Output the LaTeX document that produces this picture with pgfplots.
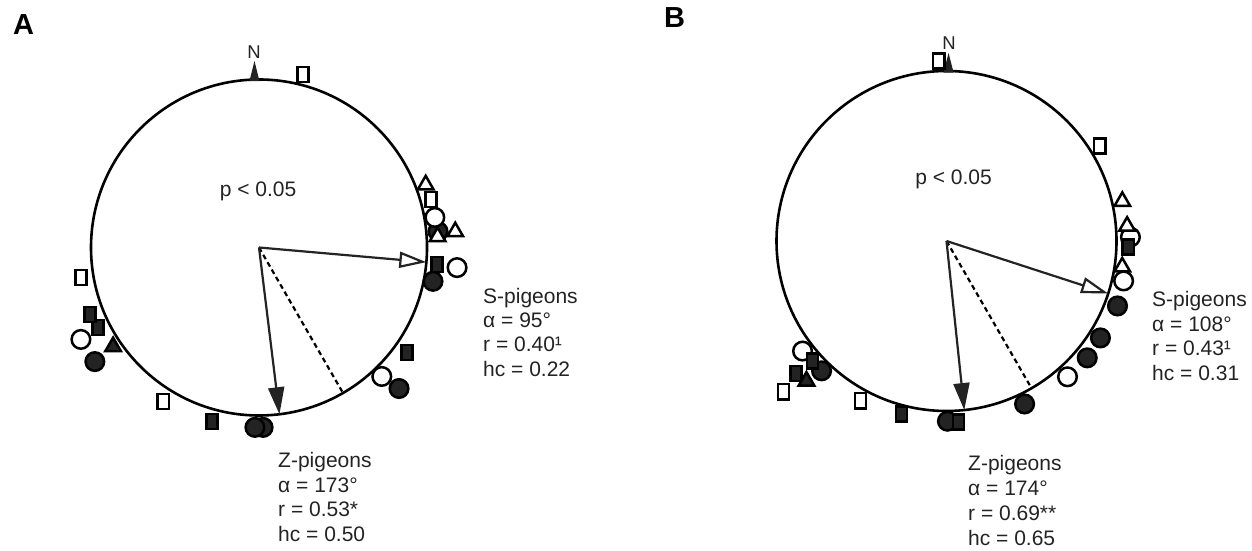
\documentclass[border=0pt]{standalone}
\usepackage{fontspec}
\setmainfont{Liberation Sans}
\usepackage{pgfplots}
\pgfplotsset{compat=1.18}
\usetikzlibrary{arrows.meta}

\definecolor{ink}{HTML}{232323}

\pgfplotsset{
  compass/.style={scale only axis, hide axis, clip=false, anchor=south west,
    xmin=-1, xmax=1, ymin=-1, ymax=1},
  bird/.style={only marks, data cs=polar, line width=2.5pt, draw=black},
  fcirc/.style={bird, mark=*, mark size=9.3pt,
    mark options={line width=2.5pt, draw=black, fill=ink}},
  ocirc/.style={bird, mark=*, mark size=9.3pt,
    mark options={line width=2.5pt, draw=black, fill=white}},
  fsq/.style={bird, mark=square*, mark size=7.6pt,
    mark options={line width=2.5pt, draw=black, fill=ink, xscale=0.74}},
  osq/.style={bird, mark=square*, mark size=7.6pt,
    mark options={line width=2.5pt, draw=black, fill=white, xscale=0.74}},
  ftri/.style={bird, mark=triangle*, mark size=9pt,
    mark options={line width=2.5pt, draw=black, fill=ink}},
  otri/.style={bird, mark=triangle*, mark size=9pt,
    mark options={line width=2.5pt, draw=black, fill=white}},
  sarrow/.style={mark=none, data cs=polar, line width=2.2pt, draw=ink,
    -{Triangle[length=27pt,width=16pt,fill=white]}},
  zarrow/.style={mark=none, data cs=polar, line width=2.2pt, draw=ink,
    -{Triangle[length=27pt,width=16pt,fill=ink]}},
  home/.style={mark=none, data cs=polar, line width=2.2pt, draw=black,
    dash pattern=on 5pt off 3.5pt},
  % bearings (deg, clockwise from N) -> math angle
  table/brg/.style={x expr=90-\thisrow{az}, y=r},
}

\newcommand{\txtblock}[7]{%
  \node[lbl] at (#1,551-#2) {#4};
  \node[lbl] at (#1,551-#2-#3) {#5};
  \node[lbl] at (#1,551-#2-2*#3) {#6};
  \node[lbl] at (#1,551-#2-3*#3) {#7};
}

\begin{document}
\begin{tikzpicture}[x=1pt, y=1pt,
  lbl/.style={anchor=base west, inner sep=0pt, text=ink,
    font=\fontsize{21}{25}\selectfont}]

% ---------------- panel A ----------------
\begin{axis}[compass, at={(91pt,135.5pt)}, width=336pt, height=336pt]
\draw[line width=2.6pt] (axis cs:0,0) circle[radius=1];
\fill[ink] (axis cs:-0.057,0.99) -- (axis cs:-0.027,1.11) -- (axis cs:0.003,0.99) -- cycle;
\addplot[home] table[brg] {
az r
150 0
150 0.99
};
\addplot[zarrow] table[brg] {
az r
173 0
173 1
};
\addplot[sarrow] table[brg] {
az r
95 0
95 1
};
\addplot[fcirc] table[brg] {
az r
84.9 1.070
101.0 1.055
135.2 1.183
178.7 1.071
181.3 1.071
235.2 1.190
};
\addplot[ocirc] table[brg] {
az r
80.3 1.062
95.8 1.185
136.4 1.060
242.7 1.193
};
\addplot[fsq] table[brg] {
az r
95.5 1.064
125.4 1.080
195.1 1.073
243.6 1.070
248.4 1.082
};
\addplot[osq] table[brg] {
az r
14.3 1.063
74.4 1.063
211.9 1.080
260.4 1.074
};
\addplot[otri] table[brg] {
az r
69.4 1.060
86.5 1.065
85.4 1.172
};
\addplot[ftri] table[brg] {
az r
235.8 1.050
};
\end{axis}

% ---------------- panel B ----------------
\begin{axis}[compass, at={(776.5pt,140pt)}, width=340pt, height=340pt]
\draw[line width=2.6pt] (axis cs:0,0) circle[radius=1];
\fill[ink] (axis cs:-0.018,0.99) -- (axis cs:0.012,1.106) -- (axis cs:0.042,0.99) -- cycle;
\addplot[home] table[brg] {
az r
150 0
150 0.99
};
\addplot[zarrow] table[brg] {
az r
174 0
174 1
};
\addplot[sarrow] table[brg] {
az r
108 0
108 1
};
\addplot[fcirc] table[brg] {
az r
110.8 1.076
122.2 1.070
129.7 1.076
154.4 1.063
179.7 1.060
223.9 1.060
};
\addplot[ocirc] table[brg] {
az r
88.8 1.082
102.7 1.068
138.3 1.070
232.6 1.066
};
\addplot[fsq] table[brg] {
az r
91.9 1.070
176.2 1.067
194.6 1.052
228.2 1.058
228.6 1.180
};
\addplot[osq] table[brg] {
az r
357.5 1.060
58.2 1.060
208.3 1.068
227.2 1.306
};
\addplot[otri] table[brg] {
az r
77.3 1.060
85.3 1.066
98.4 1.045
};
\addplot[ftri] table[brg] {
az r
225.0 1.165
};
\end{axis}

% ---------------- text ----------------
\node[anchor=base west, inner sep=0pt, font=\fontsize{29}{30}\selectfont\bfseries] at (13,551-35) {A};
\node[anchor=base west, inner sep=0pt, font=\fontsize{29}{30}\selectfont\bfseries] at (664,551-28) {B};

\node[anchor=base, inner sep=0pt, text=ink, font=\fontsize{18.5}{20}\selectfont] at (254,551-58.3) {N};
\node[anchor=base, inner sep=0pt, text=ink, font=\fontsize{18.5}{20}\selectfont] at (949,551-50) {N};

\node[anchor=base, inner sep=0pt, text=ink, font=\fontsize{21}{25}\selectfont] at (258,551-196.5) {p < 0.05};
\node[anchor=base, inner sep=0pt, text=ink, font=\fontsize{21}{25}\selectfont] at (953.5,551-185) {p < 0.05};

\txtblock{483}{303.5}{24.2}{S-pigeons}{α = 95°}{r = 0.40¹}{hc = 0.22}
\txtblock{278}{468}{24.5}{Z-pigeons}{α = 173°}{r = 0.53*}{hc = 0.50}
\txtblock{1152}{306.5}{24.7}{S-pigeons}{α = 108°}{r = 0.43¹}{hc = 0.31}
\txtblock{968}{471}{25}{Z-pigeons}{α = 174°}{r = 0.69**}{hc = 0.65}

\pgfresetboundingbox
\path[use as bounding box] (0,0) rectangle (1252,551);
\end{tikzpicture}
\end{document}
